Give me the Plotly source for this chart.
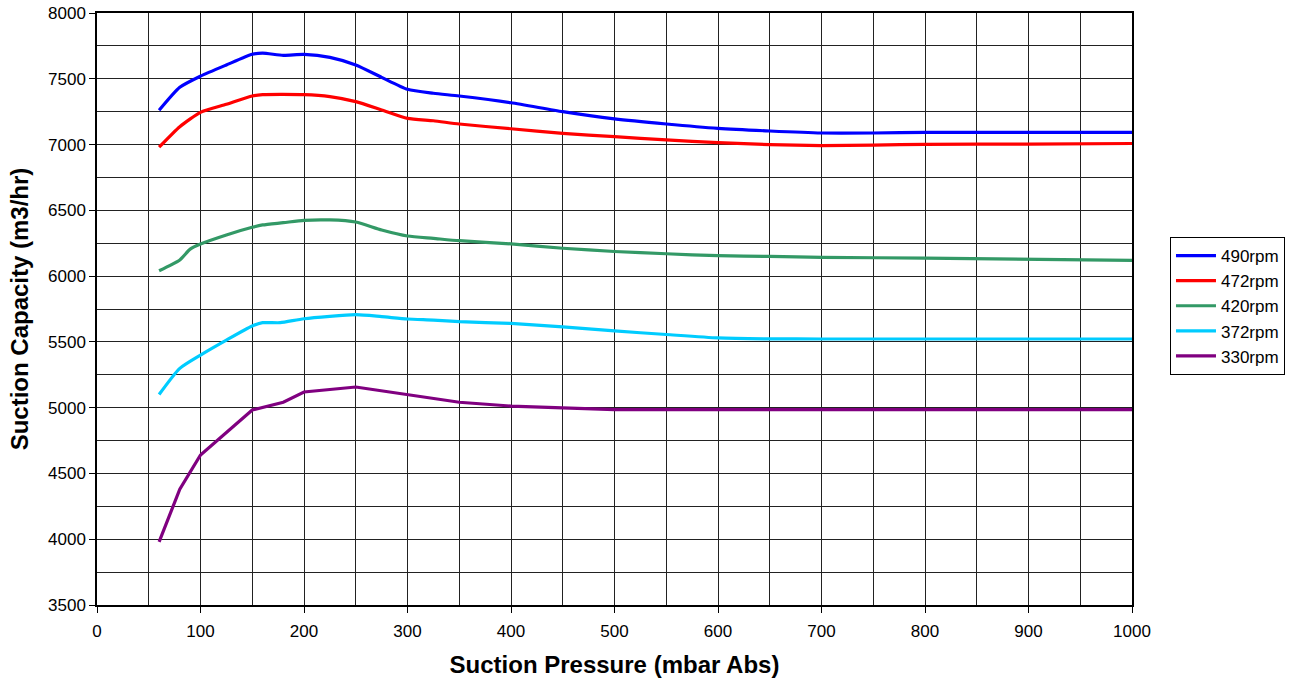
import plotly.graph_objects as go

# Data
x_490 = [60, 80, 100, 125, 150, 160, 180, 200, 225, 250, 275, 300, 325, 350, 400, 450, 500, 550, 600, 650, 700, 750, 800, 900, 1000]
y_490 = [7260, 7435, 7520, 7605, 7686, 7695, 7678, 7685, 7663, 7605, 7511, 7420, 7390, 7369, 7318, 7250, 7195, 7156, 7123, 7103, 7088, 7088, 7093, 7093, 7093]

x_472 = [60, 80, 100, 125, 150, 160, 200, 225, 250, 275, 300, 325, 350, 400, 450, 500, 550, 600, 650, 700, 750, 800, 900, 1000]
y_472 = [6980, 7136, 7245, 7306, 7369, 7379, 7379, 7364, 7326, 7263, 7199, 7181, 7156, 7120, 7085, 7060, 7035, 7015, 7000, 6992, 6996, 7002, 7004, 7008]

x_420 = [60, 80, 90, 100, 125, 150, 160, 180, 200, 225, 250, 275, 300, 325, 350, 400, 450, 500, 550, 600, 650, 700, 800, 1000]
y_420 = [6041, 6123, 6205, 6244, 6313, 6371, 6389, 6406, 6424, 6427, 6411, 6351, 6305, 6287, 6269, 6245, 6212, 6187, 6170, 6155, 6150, 6143, 6137, 6120]

x_372 = [60, 80, 100, 125, 150, 160, 177, 200, 250, 275, 300, 325, 350, 400, 450, 500, 550, 600, 650, 700, 800, 1000]
y_372 = [5100, 5299, 5400, 5514, 5621, 5646, 5646, 5676, 5707, 5692, 5674, 5666, 5654, 5640, 5614, 5583, 5556, 5530, 5523, 5522, 5522, 5522]

x_330 = [60, 80, 100, 150, 180, 200, 250, 300, 350, 400, 450, 500, 600, 700, 800, 900, 1000]
y_330 = [3980, 4380, 4640, 4982, 5041, 5119, 5157, 5100, 5041, 5012, 4998, 4985, 4985, 4985, 4985, 4985, 4985]

series_names = ["490rpm", "472rpm", "420rpm", "372rpm", "330rpm"]
series_colors = ["#0000FF", "#FF0000", "#339966", "#00CCFF", "#800080"]
series_x = [x_490, x_472, x_420, x_372, x_330]
series_y = [y_490, y_472, y_420, y_372, y_330]
series_shape = ["spline", "spline", "spline", "spline", "linear"]

fig = go.Figure()
for name, color, xs, ys, shp in zip(series_names, series_colors, series_x, series_y, series_shape):
    line = dict(color=color, width=3.2, shape=shp)
    if shp == "spline":
        line["smoothing"] = 0.6
    fig.add_trace(go.Scatter(x=xs, y=ys, mode="lines", name=name, line=line))

font_family = "Liberation Sans, Arial, sans-serif"

fig.update_layout(
    width=1297,
    height=684,
    margin=dict(l=97, r=165, t=13, b=79),
    paper_bgcolor="white",
    plot_bgcolor="white",
    font=dict(family=font_family, color="black", size=17),
    legend=dict(
        x=1.0367, y=0.6216, xanchor="left", yanchor="top",
        bgcolor="white", bordercolor="black", borderwidth=1,
        font=dict(size=17, family=font_family),
        tracegroupgap=0, itemwidth=40,
    ),
    showlegend=True,
)

fig.update_xaxes(
    range=[0, 1000], dtick=100, tick0=0,
    showgrid=True, gridcolor="#222222", gridwidth=1,
    minor=dict(dtick=50, showgrid=True, gridcolor="#222222", gridwidth=1),
    showline=True, linecolor="black", linewidth=1.5, mirror=True,
    ticks="outside", ticklen=6, tickcolor="black",
    zeroline=False, automargin=False,
    tickfont=dict(size=17), ticklabelstandoff=4,
    title=dict(text="<b>Suction Pressure (mbar Abs)</b>", font=dict(size=24), standoff=16),
)
fig.update_yaxes(
    range=[3500, 8000], dtick=500, tick0=3500,
    showgrid=True, gridcolor="#222222", gridwidth=1,
    minor=dict(dtick=250, showgrid=True, gridcolor="#222222", gridwidth=1),
    showline=True, linecolor="black", linewidth=1.5, mirror=True,
    ticks="outside", ticklen=6, tickcolor="black",
    zeroline=False, automargin=False,
    tickfont=dict(size=17),
    title=dict(text="<b>Suction Capacity (m3/hr)</b>", font=dict(size=24), standoff=13),
)

fig.write_html("out.html", config={"displayModeBar": False})

# remove the browser's default body margin so the figure sits at the page origin
with open("out.html", "r", encoding="utf-8") as f:
    html = f.read()
html = html.replace("<head>", "<head><style>body{margin:0;}</style>", 1)
with open("out.html", "w", encoding="utf-8") as f:
    f.write(html)
